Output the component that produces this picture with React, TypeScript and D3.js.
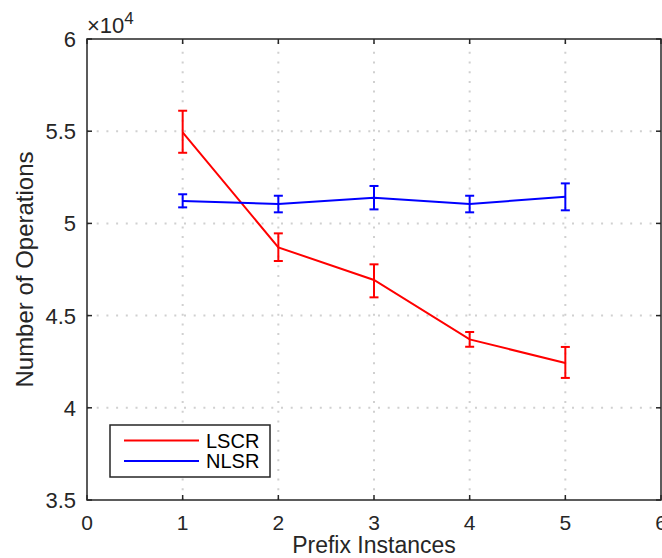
import React from "react";
import * as d3 from "d3";

const xs = [1, 2, 3, 4, 5];
const lscrMean = [5.494, 4.87, 4.693, 4.371, 4.243];
const lscrLow = [5.383, 4.796, 4.599, 4.331, 4.162];
const lscrHigh = [5.611, 4.946, 4.778, 4.411, 4.33];
const nlsrMean = [5.121, 5.105, 5.139, 5.105, 5.145];
const nlsrLow = [5.087, 5.06, 5.076, 5.06, 5.071];
const nlsrHigh = [5.158, 5.15, 5.203, 5.15, 5.217];
const xTicks = [0, 1, 2, 3, 4, 5, 6];
const yTicks = [3.5, 4, 4.5, 5, 5.5, 6];
const seriesNames = ["LSCR", "NLSR"];
const seriesColors = ["#ff0000", "#0000ff"];

const W = 662;
const H = 558;
const L = 87, R = 661, T = 39, B = 500;
const font = "'Liberation Sans', Arial, Helvetica, sans-serif";

export default function App() {
  const x = d3.scaleLinear().domain([0, 6]).range([L, R]);
  const y = d3.scaleLinear().domain([3.5, 6]).range([B, T]);
  const line = d3.line<number>().x((_, i) => x(xs[i])).y((d) => y(d));
  const series = [
    { mean: lscrMean, low: lscrLow, high: lscrHigh },
    { mean: nlsrMean, low: nlsrLow, high: nlsrHigh },
  ];
  const axisColor = "#262626";
  const cap = 4.5;
  return (
    <svg width={W} height={H} style={{ position: "absolute", left: 0, top: 0, background: "#fff" }}>
      <rect x={0} y={0} width={W} height={H} fill="#fff" />
      {/* grid */}
      {xTicks.slice(1, -1).map((t) => (
        <line key={"gx" + t} x1={x(t)} x2={x(t)} y1={B} y2={T} stroke="#d0d0d0" strokeWidth={2} strokeDasharray="2,7.7" />
      ))}
      {yTicks.slice(1, -1).map((t) => (
        <line key={"gy" + t} x1={L} x2={R} y1={y(t)} y2={y(t)} stroke="#d0d0d0" strokeWidth={2} strokeDasharray="2,7.7" />
      ))}
      {/* series */}
      {series.map((s, si) => (
        <g key={si} stroke={seriesColors[si]} strokeWidth={2} fill="none">
          <path d={line(s.mean) || ""} />
          {xs.map((xv, i) => (
            <g key={i}>
              <line x1={x(xv)} x2={x(xv)} y1={y(s.low[i])} y2={y(s.high[i])} />
              <line x1={x(xv) - cap} x2={x(xv) + cap} y1={y(s.low[i])} y2={y(s.low[i])} />
              <line x1={x(xv) - cap} x2={x(xv) + cap} y1={y(s.high[i])} y2={y(s.high[i])} />
            </g>
          ))}
        </g>
      ))}
      {/* axes box */}
      <rect x={L} y={T} width={R - L} height={B - T} fill="none" stroke={axisColor} strokeWidth={1.5} />
      {xTicks.map((t) => (
        <g key={"xt" + t}>
          <line x1={x(t)} x2={x(t)} y1={B} y2={B - 5} stroke={axisColor} strokeWidth={1.5} />
          <line x1={x(t)} x2={x(t)} y1={T} y2={T + 5} stroke={axisColor} strokeWidth={1.5} />
          <text x={x(t)} y={530} textAnchor="middle" fontFamily={font} fontSize={21} fill="#262626">{t}</text>
        </g>
      ))}
      {yTicks.map((t) => (
        <g key={"yt" + t}>
          <line x1={L} x2={L + 5} y1={y(t)} y2={y(t)} stroke={axisColor} strokeWidth={1.5} />
          <line x1={R} x2={R - 5} y1={y(t)} y2={y(t)} stroke={axisColor} strokeWidth={1.5} />
          <text x={76} y={y(t) + 8} textAnchor="end" fontFamily={font} fontSize={22} fill="#262626">{t}</text>
        </g>
      ))}
      {/* exponent */}
      <text x={87} y={33} fontFamily={font} fontSize={22} fill="#262626">
        ×10<tspan dy={-9} fontSize={17}>4</tspan>
      </text>
      {/* labels */}
      <text x={374} y={553} textAnchor="middle" fontFamily={font} fontSize={23} fill="#262626">Prefix Instances</text>
      <text transform={`translate(33,${(T + B) / 2}) rotate(-90)`} textAnchor="middle" fontFamily={font} fontSize={24} fill="#262626">Number of Operations</text>
      {/* legend */}
      <rect x={110} y={425} width={160} height={52} fill="#fff" stroke={axisColor} strokeWidth={1.5} />
      {seriesNames.map((n, i) => (
        <g key={n}>
          <line x1={124} x2={199} y1={440.5 + i * 20.5} y2={440.5 + i * 20.5} stroke={seriesColors[i]} strokeWidth={2} />
          <text x={206} y={447.5 + i * 20.5} fontFamily={font} fontSize={20} fill="#000">{n}</text>
        </g>
      ))}
    </svg>
  );
}
